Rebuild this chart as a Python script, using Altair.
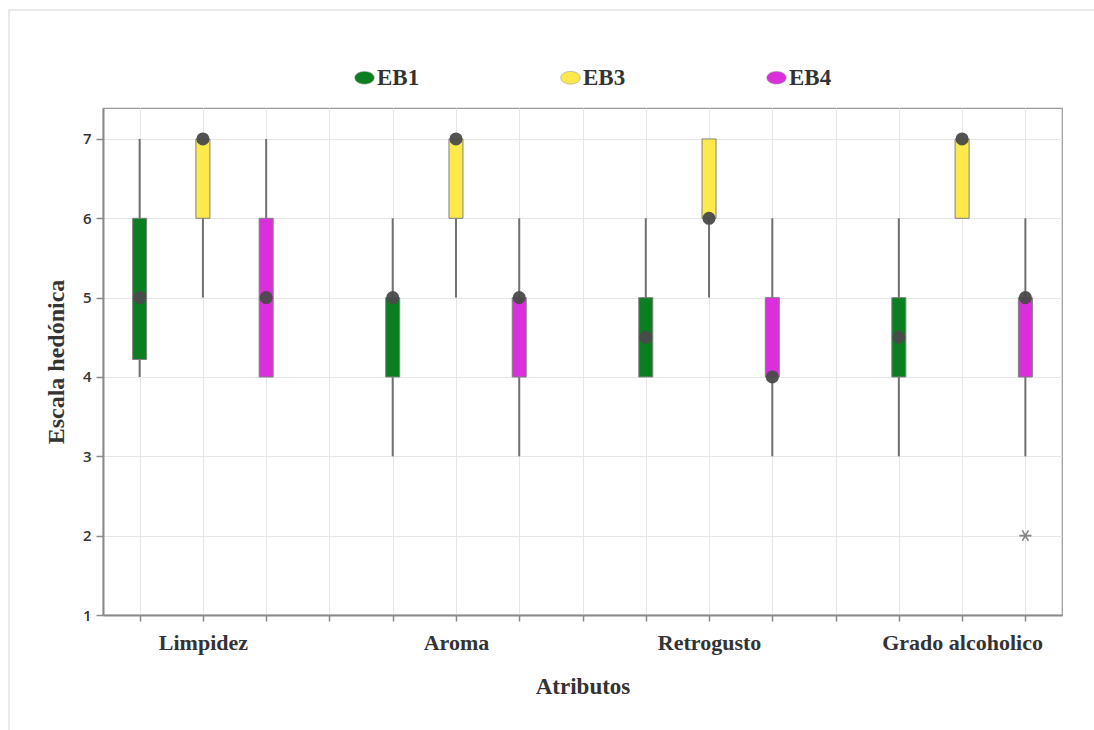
import altair as alt
import pandas as pd

categories = ["Limpidez", "Aroma", "Retrogusto", "Grado alcoholico"]
groups = ["EB1", "EB3", "EB4"]
colors = ["#0a7f1f", "#fde94a", "#db2fdb"]

# summary values per category (rows) and group (columns)
whisker_low = [[4, 5, 4], [3, 5, 3], [4, 5, 3], [3, 6, 3]]
q1 = [[4.22, 6, 4], [4, 6, 4], [4, 6, 4], [4, 6, 4]]
median = [[5, 7, 5], [5, 7, 5], [4.5, 6, 4], [4.5, 7, 5]]
q3 = [[6, 7, 6], [5, 7, 5], [5, 7, 5], [5, 7, 5]]
whisker_high = [[7, 7, 7], [6, 7, 6], [6, 7, 6], [6, 7, 6]]

outlier_cat = ["Grado alcoholico"]
outlier_grp = ["EB4"]
outlier_val = [2]

rows = []
for ci, c in enumerate(categories):
    for gi, g in enumerate(groups):
        rows.append(dict(cat=c, grp=g, pos=ci * 4 + gi,
                         lo=whisker_low[ci][gi], q1=q1[ci][gi],
                         med=median[ci][gi], q3=q3[ci][gi],
                         hi=whisker_high[ci][gi]))
df = pd.DataFrame(rows)

out = pd.DataFrame([dict(pos=categories.index(c) * 4 + groups.index(g), val=v)
                    for c, g, v in zip(outlier_cat, outlier_grp, outlier_val)])

serif = "Liberation Serif"
label_expr = " : ".join(
    f"datum.value == {i * 4 + 1} ? '{c}'" for i, c in enumerate(categories)
) + " : ''"

xscale = alt.Scale(domain=[-0.5, 14.5], nice=False, zero=False)
yscale = alt.Scale(domain=[1, 7.39], nice=False, zero=False)

xaxis = alt.Axis(values=list(range(15)), labelExpr=label_expr, title="Atributos",
                 labelOverlap=False, labelFont=serif, labelFontWeight="bold",
                 labelFontSize=22, labelColor="#333333", labelPadding=11,
                 labelBound=False, labelFlush=False,
                 titleFont=serif, titleFontWeight="bold", titleFontSize=23,
                 titleColor="#333333", titlePadding=22, tickSize=6, grid=True)
yaxis = alt.Axis(values=[1, 2, 3, 4, 5, 6, 7], format="d", title="Escala hedónica",
                 labelFont="Open Sans", labelFontWeight=600, labelFontSize=15,
                 labelColor="#333333", labelPadding=5, tickSize=7,
                 titleFont=serif, titleFontWeight="bold", titleFontSize=24,
                 titleColor="#333333", titlePadding=14, grid=True)

base = alt.Chart(df)

# light outer frame around the figure
frame = alt.Chart(pd.DataFrame({"k": [0]})).mark_rect(
    fill=None, stroke="#e2e2e2", strokeWidth=1.5
).encode(x=alt.value(-94), x2=alt.value(1000), y=alt.value(-98), y2=alt.value(640))

whiskers = base.mark_rule(color="#707070", strokeWidth=2).encode(
    x=alt.X("pos:Q", scale=xscale, axis=xaxis),
    y=alt.Y("lo:Q", scale=yscale, axis=yaxis),
    y2="hi:Q",
)

ellipse = "M-1,0A1,0.65,0,1,0,1,0A1,0.65,0,1,0,-1,0Z"
boxes = base.mark_bar(size=14, stroke="#808080", strokeWidth=1).encode(
    x=alt.X("pos:Q", scale=xscale),
    y=alt.Y("q1:Q", scale=yscale),
    y2="q3:Q",
    color=alt.Color("grp:N", scale=alt.Scale(domain=groups, range=colors),
                    legend=alt.Legend(title=None, orient="none", direction="horizontal",
                                      legendX=250, legendY=-42, symbolType=ellipse,
                                      symbolSize=380, symbolStrokeColor="#9a9a9a",
                                      symbolStrokeWidth=0.6, labelFont=serif,
                                      labelFontWeight="bold", labelFontSize=23,
                                      labelColor="#333333", labelOffset=1,
                                      columnPadding=139)),
)

medians = base.mark_point(filled=True, size=170, color="#4a4a4a", opacity=0.95).encode(
    x=alt.X("pos:Q", scale=xscale),
    y=alt.Y("med:Q", scale=yscale),
)

star = "M-1,0L1,0M-0.5,-0.866L0.5,0.866M-0.5,0.866L0.5,-0.866"
outliers = alt.Chart(out).mark_point(shape=star, filled=False, stroke="#555555",
                                     strokeWidth=1.6, size=150).encode(
    x=alt.X("pos:Q", scale=xscale),
    y=alt.Y("val:Q", scale=yscale),
)

chart = alt.layer(frame, whiskers, boxes, medians, outliers).properties(
    width=959, height=507,
    autosize=alt.AutoSizeParams(type="none"),
    padding={"left": 103, "top": 108, "right": 32, "bottom": 115},
    background="white",
).configure_view(
    stroke="#9a9a9a", strokeWidth=1.2
).configure_axis(
    domainColor="#8a8a8a", domainWidth=2, tickColor="#8a8a8a", tickWidth=1.5,
    gridColor="#e6e6e6", gridWidth=1
)

chart.save("out.html", embed_options={"renderer": "svg", "actions": False})
